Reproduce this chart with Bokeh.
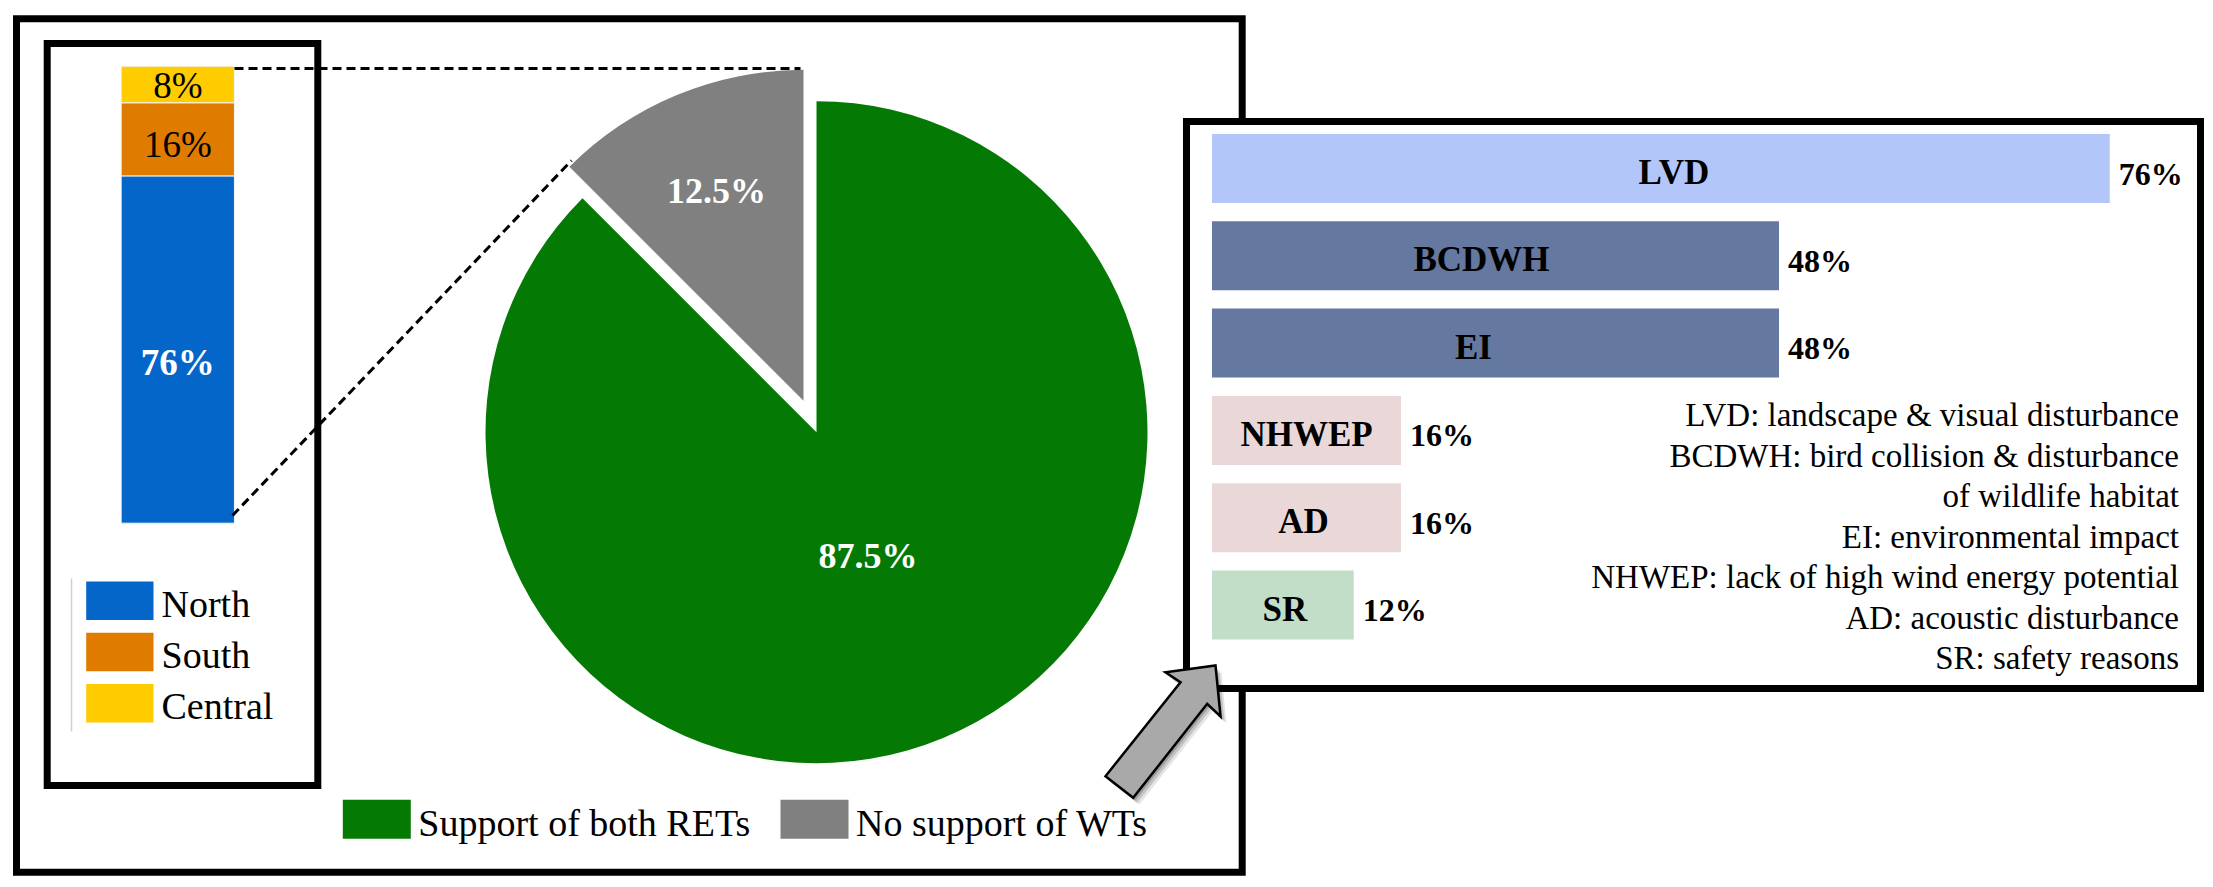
import math
from bokeh.plotting import figure
from bokeh.models import Range1d, ColumnDataSource
from bokeh.core.properties import value
from bokeh.embed import file_html
from bokeh.resources import INLINE

# ---------------- data ----------------
regions = ["North", "South", "Central"]
region_share = [76, 16, 8]
region_colors = ["#0466C8", "#DF7C00", "#FFCC00"]
region_label_colors = ["white", "black", "black"]
region_label_styles = ["bold", "normal", "normal"]
region_label_nudge = [13, 5, 1]          # label placement (px)

support_labels = ["Support of both RETs", "No support of WTs"]
support_share = [87.5, 12.5]
support_colors = ["#047A04", "#808080"]

reasons = ["LVD", "BCDWH", "EI", "NHWEP", "AD", "SR"]
reason_share = [76, 48, 48, 16, 16, 12]
reason_colors = ["#B3C6FA", "#6478A0", "#6478A0", "#EAD8D8", "#EAD8D8", "#C2DEC8"]
reason_label_nudge = [13, -14, -22, 0, -3, 2]   # label placement (px)

definitions = [
    "LVD: landscape & visual disturbance",
    "BCDWH: bird collision & disturbance",
    "of wildlife habitat",
    "EI: environmental impact",
    "NHWEP: lack of high wind energy potential",
    "AD: acoustic disturbance",
    "SR: safety reasons",
]

# ---------------- layout (screen pixels, page origin) ----------------
W, H = 2208, 884
FONT = value("Liberation Serif")


def Y(sy):
    return H - sy


# stacked bar geometry
STK_ZERO, STK_PX = 522.7, 4.57
STK_X, STK_W = 177.3, 113.3
# horizontal bars geometry
HB_ZERO, HB_PX = 1211.5, 11.813
ROW0, ROW_PITCH, ROW_H = 168.0, 87.3, 0.79
# pie geometry
PIE_CX, PIE_CY, PIE_R, EXPLODE = 816.0, 431.7, 331.0, 34.0

p = figure(
    width=W, height=H,
    x_range=Range1d(0, W), y_range=Range1d(0, H),
    output_backend="svg", toolbar_location=None,
    x_axis_location=None, y_axis_location=None,
    min_border=0, outline_line_color=None,
    background_fill_color="white", border_fill_color="white",
)
p.grid.visible = False
p.extra_y_ranges = {
    "stack": Range1d((STK_ZERO - H) / STK_PX, STK_ZERO / STK_PX),
    "rows": Range1d((H - ROW0) / ROW_PITCH, -ROW0 / ROW_PITCH),
}
p.extra_x_ranges = {
    "hx": Range1d(-HB_ZERO / HB_PX, (W - HB_ZERO) / HB_PX),
}

# ---------------- frames ----------------
p.quad(left=[16], right=[1241.7], top=[Y(18.3)], bottom=[Y(871.7)],
       fill_color=None, line_color="black", line_width=7, line_join="miter")
p.quad(left=[46.7], right=[317.3], top=[Y(43)], bottom=[Y(785)],
       fill_color=None, line_color="black", line_width=7, line_join="miter")

# ---------------- stacked bar ----------------
tops, bottoms, acc = [], [], 0
for v in region_share:
    bottoms.append(acc)
    acc += v
    tops.append(acc)
stk = ColumnDataSource(dict(
    bottom=bottoms, top=tops, color=region_colors,
    mid=[(a + b) / 2 for a, b in zip(bottoms, tops)],
    label=[f"{v}%" for v in region_share],
    lcolor=region_label_colors, lstyle=region_label_styles,
    nudge=region_label_nudge,
    x=[STK_X] * len(region_share),
))
p.vbar(x="x", width=STK_W, bottom="bottom", top="top", fill_color="color",
       line_color="#f4f4f4", line_width=1, source=stk, y_range_name="stack")
p.text(x="x", y="mid", text="label", text_color="lcolor", text_font_style="lstyle",
       text_font=FONT, text_font_size="37px", text_align="center",
       text_baseline="middle", y_offset="nudge", source=stk, y_range_name="stack")

# stacked legend
p.segment(x0=[71], y0=[Y(578)], x1=[71], y1=[Y(731)], line_color="#d0d0d0", line_width=1.5)
for i, (name, col) in enumerate(zip(regions, region_colors)):
    top = 581 + 51.3 * i
    p.quad(left=[85.7], right=[153], top=[Y(top)], bottom=[Y(top + 38.5)],
           fill_color=col, line_color=None)
    p.text(x=[161], y=[Y(top + 22)], text=[name], text_font=FONT,
           text_font_size="38px", text_align="left", text_baseline="middle",
           text_color="black")

# ---------------- pie ----------------
order = [1, 0]  # grey slice first, counter-clockwise from the top
slice_ang, ang = {}, 90.0
for k in order:
    sweep = 360 * support_share[k] / 100
    slice_ang[k] = (ang, ang + sweep)
    ang += sweep

px, py, ps, pe, pc, lx, ly, lt = [], [], [], [], [], [], [], []
for k in [0, 1]:
    a0, a1 = slice_ang[k]
    mid = math.radians((a0 + a1) / 2)
    off = EXPLODE if k == 1 else 0.0
    cx = PIE_CX + off * math.cos(mid)
    cy = Y(PIE_CY) + off * math.sin(mid)
    px.append(cx); py.append(cy)
    ps.append(math.radians(a0)); pe.append(math.radians(a1))
    pc.append(support_colors[k])
    frac = 0.686 if k == 1 else 0.406
    lx.append(cx + frac * PIE_R * math.cos(mid))
    ly.append(cy + frac * PIE_R * math.sin(mid))
    lt.append(f"{support_share[k]}%")
pie = ColumnDataSource(dict(x=px, y=py, s=ps, e=pe, c=pc, lx=lx, ly=ly, lt=lt))
p.wedge(x="x", y="y", radius=PIE_R, start_angle="s", end_angle="e",
        fill_color="c", line_color=None, source=pie)
p.text(x="lx", y="ly", text="lt", text_color="white", text_font_style="bold",
       text_font=FONT, text_font_size="36px", text_align="center",
       text_baseline="middle", source=pie)

# zoom connector lines
p.segment(x0=[234], y0=[Y(68)], x1=[800], y1=[Y(68)], line_color="black",
          line_width=3, line_dash="9 5")
p.segment(x0=[232], y0=[Y(515)], x1=[571], y1=[Y(160)], line_color="black",
          line_width=3, line_dash="9 5")

# pie legend
leg_sw = [342.3, 780]
for name, col, sx in zip(support_labels, support_colors, leg_sw):
    p.quad(left=[sx], right=[sx + 68], top=[Y(799.3)], bottom=[Y(838.3)],
           fill_color=col, line_color=None)
    p.text(x=[sx + 75.5], y=[Y(822)], text=[name], text_font=FONT,
           text_font_size="38px", text_align="left", text_baseline="middle",
           text_color="black")

# ---------------- right panel ----------------
p.quad(left=[1186], right=[2200], top=[Y(121)], bottom=[Y(688)],
       fill_color="white", line_color="black", line_width=7, line_join="miter")

hb = ColumnDataSource(dict(
    row=list(range(len(reasons))), val=reason_share, c=reason_colors,
    half=[v / 2 for v in reason_share], name=reasons,
    lab=[f"{v}%" for v in reason_share], nudge=reason_label_nudge,
))
p.hbar(y="row", left=0, right="val", height=ROW_H, fill_color="c", line_color=None,
       source=hb, x_range_name="hx", y_range_name="rows")
p.text(x="half", y="row", text="name", text_font=FONT, text_font_size="35px",
       text_font_style="bold", text_align="center", text_baseline="middle",
       text_color="black", x_offset="nudge", y_offset=4, source=hb,
       x_range_name="hx", y_range_name="rows")
p.text(x="val", y="row", text="lab", text_font=FONT, text_font_size="32px",
       text_font_style="bold", text_align="left", text_baseline="middle",
       text_color="black", x_offset=9, y_offset=5, source=hb,
       x_range_name="hx", y_range_name="rows")

for i, line in enumerate(definitions):
    p.text(x=[2178.5], y=[Y(414.5 + 40.5 * i)], text=[line], text_font=FONT,
           text_font_size="33px", text_align="right", text_baseline="middle",
           text_color="black")

# ---------------- arrow ----------------
arrow_pts = [(1215, 665), (1220, 716), (1206.7, 703.3), (1132.7, 797.3),
             (1105, 775.7), (1180, 681.7), (1165, 671.7)]
for dx, dy, a in [(6, 7, 0.10), (4, 5, 0.15), (2, 3, 0.2)]:
    p.patch([x + dx for x, _ in arrow_pts], [Y(y + dy) for _, y in arrow_pts],
            fill_color="black", fill_alpha=a, line_color=None)
p.patch([x for x, _ in arrow_pts], [Y(y) for _, y in arrow_pts],
        fill_color="#A9A9A9", line_color="black", line_width=2.5, line_join="miter")

open("out.html", "w").write(file_html(p, INLINE))
